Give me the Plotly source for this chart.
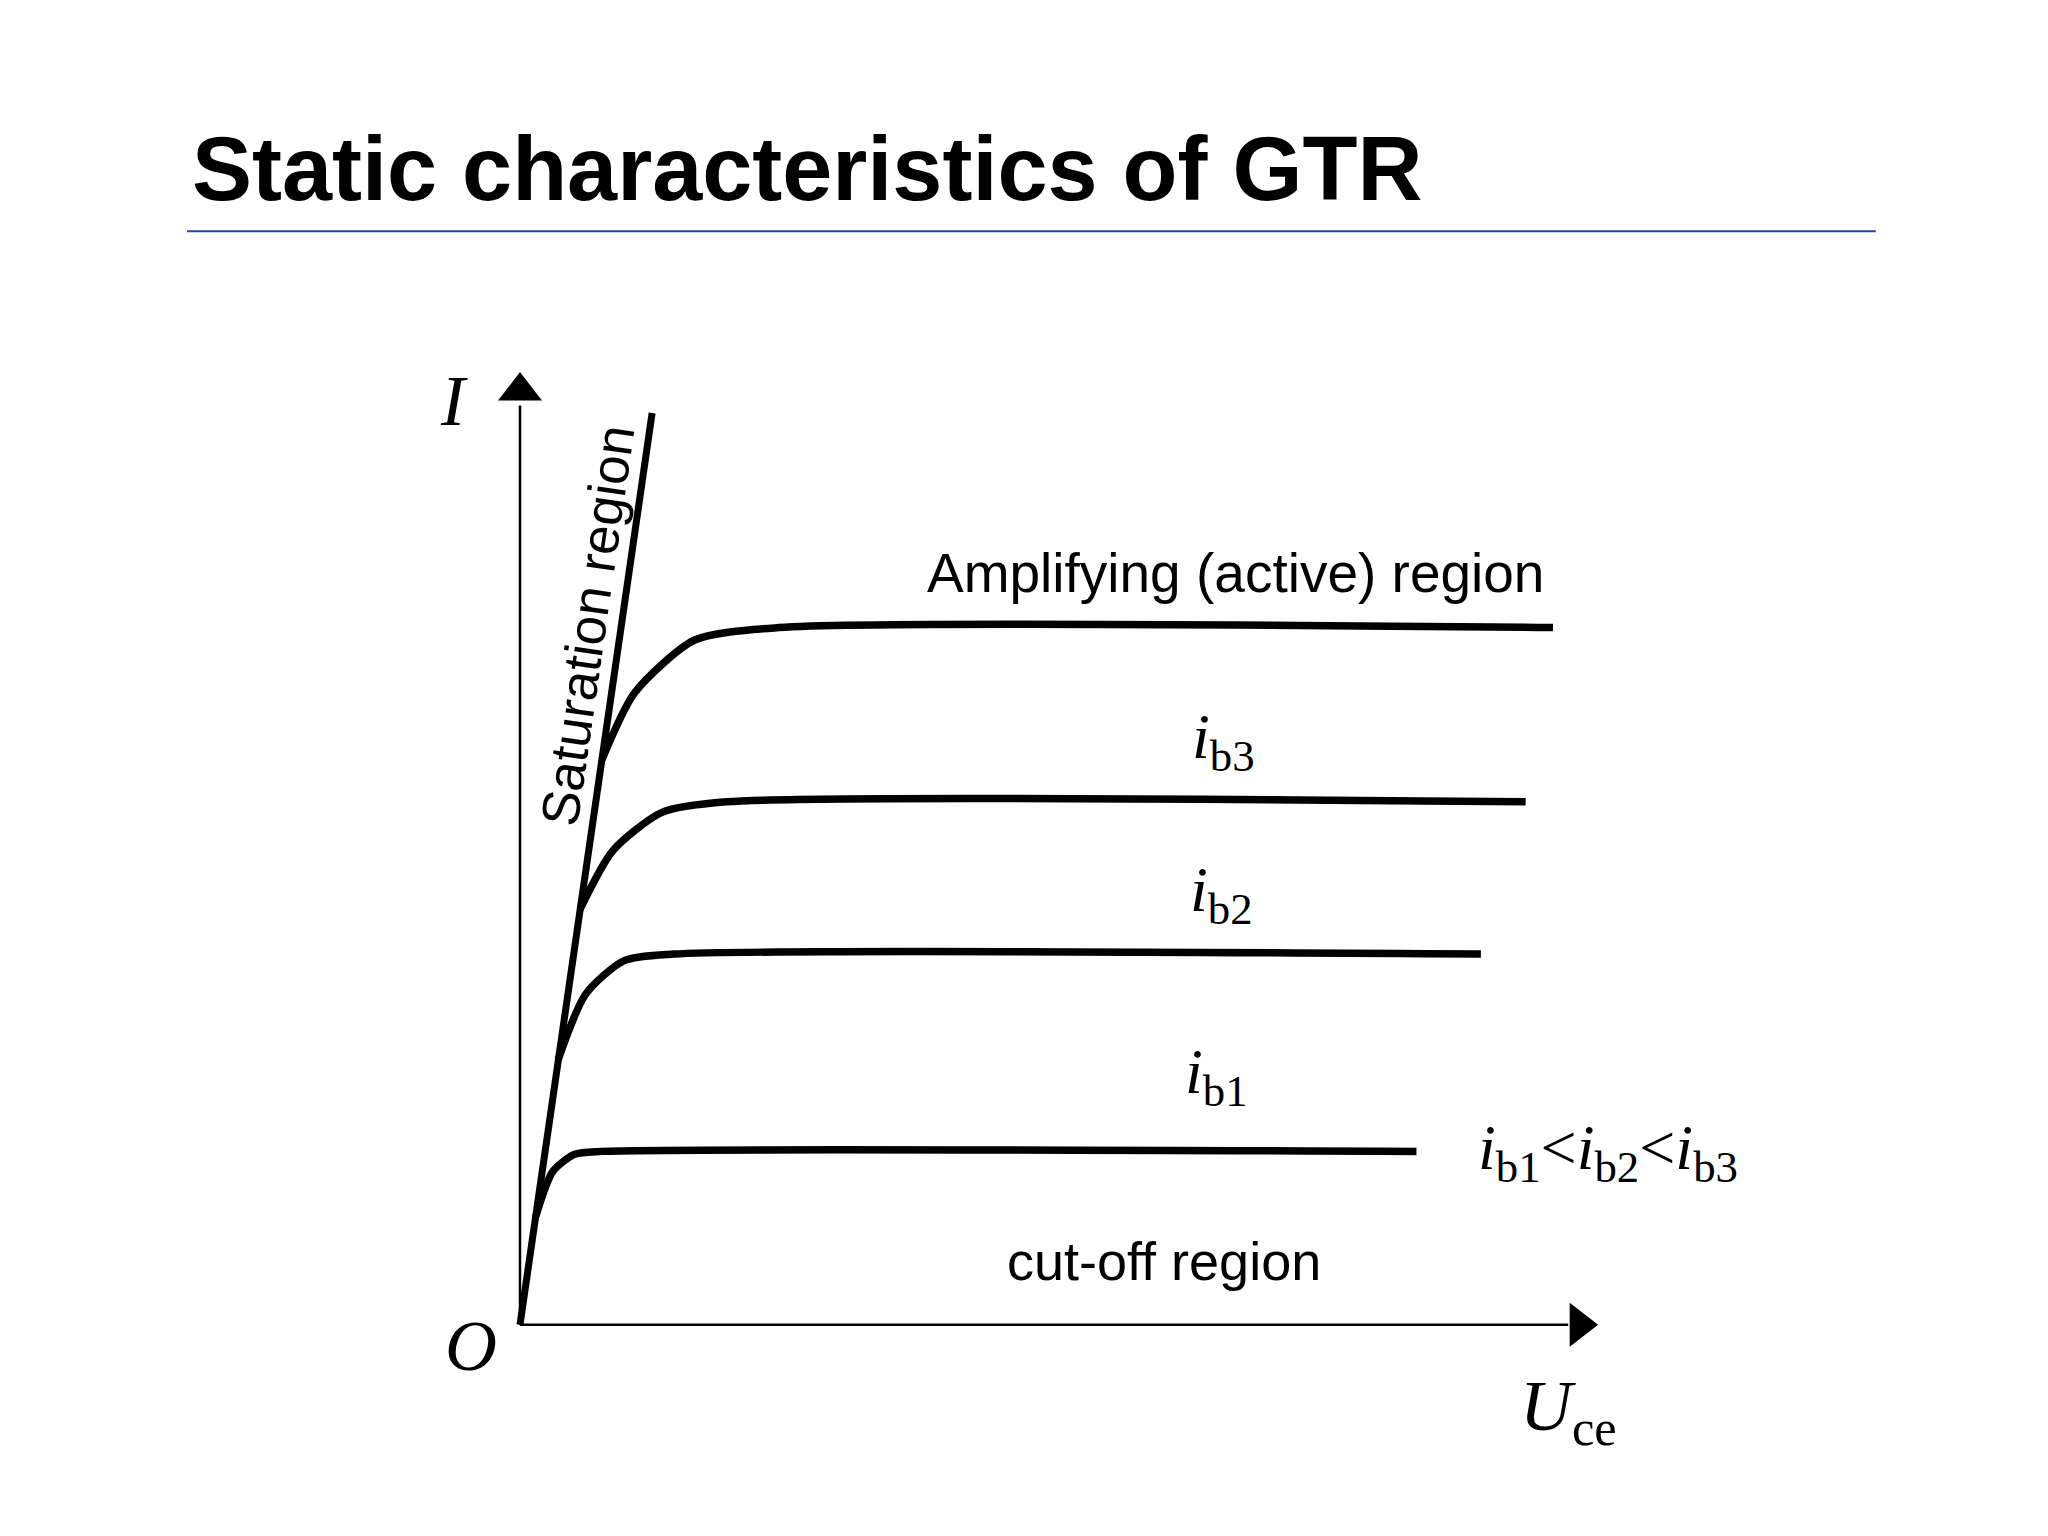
import plotly.graph_objects as go

# Data (abstract units)
sat_u = [0.0, 1.21]
sat_i = [0.0, 9.52]
ib1_u = [0.144, 0.3, 0.5, 0.75, 8.21]
ib1_i = [1.13, 1.6, 1.78, 1.81, 1.81]
ib2_u = [0.35, 0.6, 0.95, 1.41, 8.80]
ib2_i = [2.77, 3.45, 3.8, 3.87, 3.87]
ib3_u = [0.55, 0.85, 1.3, 1.89, 9.21]
ib3_i = [4.34, 4.95, 5.35, 5.46, 5.46]
top_u = [0.75, 1.05, 1.6, 2.37, 9.46]
top_i = [5.9, 6.6, 7.15, 7.28, 7.28]
curves = [(ib1_u, ib1_i), (ib2_u, ib2_i), (ib3_u, ib3_i), (top_u, top_i)]

fig = go.Figure()
fig.add_trace(go.Scatter(x=sat_u, y=sat_i, mode="lines",
                         line=dict(color="black", width=7), showlegend=False))
for u, i in curves:
    fig.add_trace(go.Scatter(x=u, y=i, mode="lines",
                             line=dict(color="black", width=7.5, shape="spline", smoothing=0.7),
                             showlegend=False))
# axes with arrows
fig.add_shape(type="line", x0=0, y0=0, x1=9.6, y1=0, line=dict(color="black", width=2.5))
fig.add_shape(type="line", x0=0, y0=0, x1=0, y1=9.6, line=dict(color="black", width=2.5))
fig.add_trace(go.Scatter(x=[9.7], y=[0], mode="markers",
                         marker=dict(symbol="triangle-right", size=38, color="black"), showlegend=False))
fig.add_trace(go.Scatter(x=[0], y=[9.75], mode="markers",
                         marker=dict(symbol="triangle-up", size=38, color="black"), showlegend=False))

serif = "Liberation Serif"
sans = "Liberation Sans"
def txt(x, y, t, size, font=sans, angle=0):
    fig.add_annotation(x=x, y=y, text=t, showarrow=False, textangle=angle,
                       font=dict(family=font, size=size, color="black"))

txt(-0.6, 9.65, "<i>I</i>", 72, serif)
txt(-0.45, -0.22, "<i>O</i>", 72, serif)
txt(9.6, -0.9, "<i>U</i><sub>ce</sub>", 72, serif)
txt(0.62, 7.3, "Saturation region", 53, sans, -81.8)
txt(6.55, 7.85, "Amplifying (active) region", 55)
txt(6.44, 6.1, "<i>i</i><sub>b3</sub>", 64, serif)
txt(6.42, 4.5, "<i>i</i><sub>b2</sub>", 64, serif)
txt(6.38, 2.6, "<i>i</i><sub>b1</sub>", 64, serif)
txt(9.96, 1.8, "<i>i</i><sub>b1</sub>&lt;<i>i</i><sub>b2</sub>&lt;<i>i</i><sub>b3</sub>", 64, serif)
txt(5.9, 0.67, "cut-off region", 54)

fig.add_annotation(xref="paper", yref="paper", x=0.089, y=0.895, xanchor="left", yanchor="middle",
                   text="<b>Static characteristics of GTR</b>", showarrow=False,
                   font=dict(family=sans, size=90, color="black"))
fig.add_shape(type="line", xref="paper", yref="paper", x0=0.0874, x1=0.912,
              y0=0.8546, y1=0.8546, line=dict(color="#2444a0", width=2))

fig.update_xaxes(range=[-4.689, 14.067], visible=False)
fig.update_yaxes(range=[-2.29, 13.75], visible=False)
fig.update_layout(width=2048, height=1536, margin=dict(l=0, r=0, t=0, b=0),
                  plot_bgcolor="white", paper_bgcolor="white")
fig.write_html("out.html")
